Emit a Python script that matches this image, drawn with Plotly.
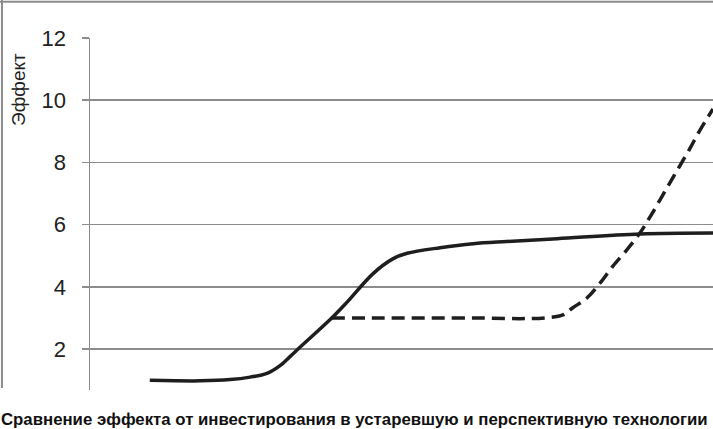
import plotly.graph_objects as go

# Old technology (solid S-curve)
old_t = [9.6, 17.7, 22.5, 25.7, 28.4, 30.5, 32.1, 33.7, 38.8, 41.3, 45.4, 48.6, 50.9, 56.2, 61.5, 66.9, 75.0, 88.3, 100]
old_effect = [1.0, 0.98, 1.02, 1.1, 1.22, 1.47, 1.76, 2.06, 3.0, 3.52, 4.42, 4.9, 5.08, 5.26, 5.39, 5.46, 5.55, 5.7, 5.73]

# New technology (dashed)
new_t = [38.8, 46.5, 54.6, 62.6, 69.0, 73.0, 75.9, 77.5, 79.8, 81.9, 83.9, 86.2, 88.3, 89.9, 91.5, 93.1, 94.7, 96.3, 97.8, 100]
new_effect = [3.0, 3.0, 3.0, 3.0, 2.98, 3.0, 3.1, 3.33, 3.65, 4.13, 4.66, 5.2, 5.74, 6.25, 6.8, 7.35, 7.9, 8.45, 9.0, 9.72]

y_ticks = [2, 4, 6, 8, 10, 12]
title_text = "Сравнение эффекта от инвестирования в устаревшую и перспективную технологии"
y_title = "Эффект"

GRAY = "#8c8c8c"
INK = "#1e1e1e"

fig = go.Figure()
fig.add_trace(go.Scatter(x=old_t, y=old_effect, mode="lines",
                         line=dict(color=INK, width=3.5, shape="spline", smoothing=1.0),
                         showlegend=False, hoverinfo="skip"))
fig.add_trace(go.Scatter(x=new_t, y=new_effect, mode="lines",
                         line=dict(color=INK, width=3.5, dash="13px,7px", shape="spline", smoothing=1.0),
                         showlegend=False, hoverinfo="skip"))

fig.update_layout(
    width=713, height=429,
    margin=dict(l=90, r=0, t=38, b=39),
    paper_bgcolor="white", plot_bgcolor="white",
    xaxis=dict(range=[0, 100], visible=False, showgrid=False, zeroline=False, fixedrange=True),
    yaxis=dict(range=[0.686, 12], tickvals=y_ticks, ticktext=[str(v) for v in y_ticks],
               showgrid=True, gridcolor=GRAY, gridwidth=1.5,
               showline=True, linecolor=GRAY, linewidth=1.5,
               ticks="outside", ticklen=7, tickcolor=GRAY, tickwidth=1.5,
               ticklabelstandoff=11,
               tickfont=dict(family="Liberation Sans, Arial", size=22, color="#222"),
               zeroline=False, fixedrange=True),
    font=dict(family="Liberation Sans, Arial"),
    annotations=[
        dict(text=title_text, xref="paper", yref="paper", x=0.424, y=-0.085,
             xanchor="center", yanchor="middle", showarrow=False,
             font=dict(family="Liberation Sans, Arial", size=16.8, color="#111", weight="bold")),
        dict(text=y_title, xref="paper", yref="paper", x=-0.1156, y=0.855,
             xanchor="center", yanchor="middle", showarrow=False, textangle=-90,
             font=dict(family="Liberation Sans, Arial", size=19, color="#222")),
    ],
    shapes=[
        dict(type="line", xref="paper", yref="paper", x0=-0.1413, x1=-0.1413, y0=1.108, y1=0.0057,
             line=dict(color=GRAY, width=2)),
        dict(type="line", xref="paper", yref="paper", x0=-0.1445, x1=1.0, y0=1.103, y1=1.103,
             line=dict(color=GRAY, width=2)),
    ],
)

fig.write_html("out.html", config={"displayModeBar": False, "staticPlot": True},
               post_script="document.body.style.margin='0';document.body.style.overflow='hidden';")
